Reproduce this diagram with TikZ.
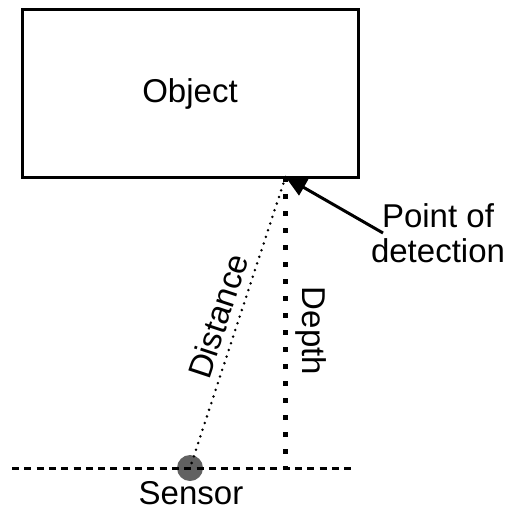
\documentclass[tikz,border=0pt]{standalone}
\usepackage{fontspec}
\setmainfont{Liberation Sans}
\usetikzlibrary{arrows.meta}
\begin{document}
\begin{tikzpicture}[x=1pt,y=-1pt,
  lbl/.style={font=\fontsize{33}{35}\selectfont, inner sep=0pt},
  objbox/.style={draw, line width=3pt, minimum width=336pt, minimum height=167pt, inner sep=0pt},
  ground/.style={line width=3pt, dash pattern=on 7pt off 5.3pt},
  depthline/.style={line width=4.5pt, dash pattern=on 4.5pt off 12.5pt},
  distline/.style={line width=2.8pt, line cap=round, dash pattern=on 0pt off 7pt},
  pointer/.style={line width=3pt, -{Triangle[length=21pt,width=18pt]}}
]
\useasboundingbox (0,0) rectangle (507,513);

% the object and the surface point where it is detected
\node[objbox, lbl] (obj) at (190,93.5) {Object};
\coordinate (P) at (285.5,177);

% sensor on its mounting line
\node[circle, fill=black!62, minimum size=26pt, inner sep=0pt] (sensor) at (190,468) {};
\coordinate (gl) at (12,468);
\coordinate (gr) at (353,468);
\coordinate (foot) at (285.5,468);
\draw[ground] (gl) -- (gr);

% distance and depth
\draw[distline] (P) -- (sensor.center);
\draw[depthline] (P) -- (foot);

\node[lbl, rotate=71.7] (dist) at (218,316) {Distance};
\node[lbl, rotate=-90] (depth) at (311,331) {Depth};
\node[lbl, anchor=north] (sname) at (191,481) {Sensor};

% label for the detection point
\node[lbl, align=center] (pod) at (438,233) {Point of\\detection};
\coordinate (tail) at (383,233);
\draw[pointer] (tail) -- (P);
\end{tikzpicture}
\end{document}
